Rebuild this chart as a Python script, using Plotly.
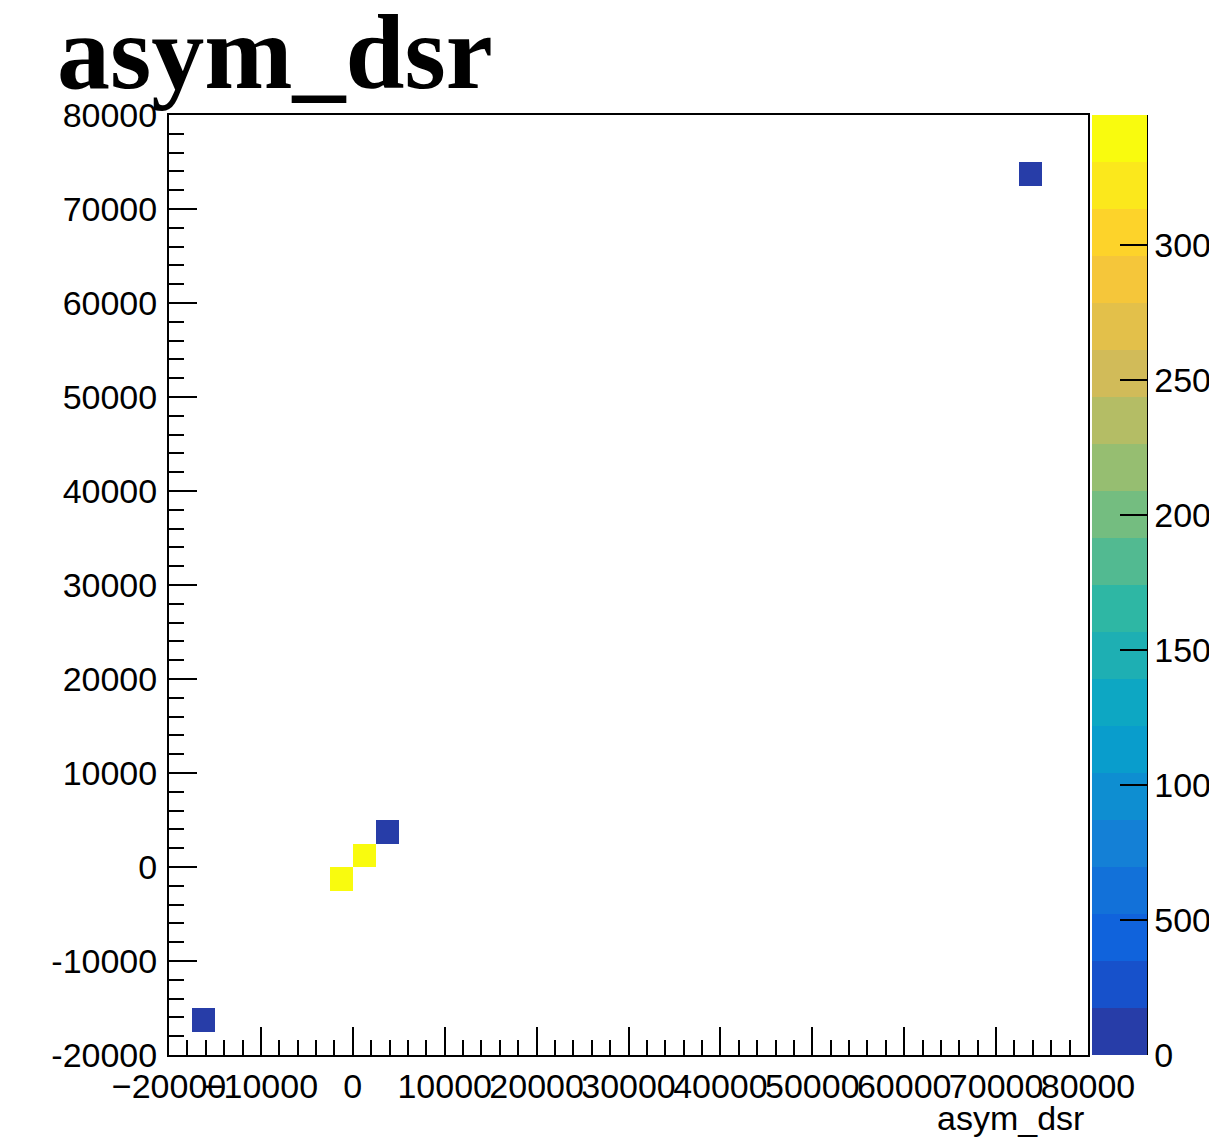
import numpy as np
import plotly.graph_objects as go

# ---- data (filled bins of the 2D histogram) ----
cell_x = [-16250, -1250, 1250, 3750, 73750]      # bin centres, asym_dsr (x)
cell_y = [-16250, -1250, 1250, 3750, 73750]      # bin centres, asym_dsr (y)
cell_count = [1, 3480, 3420, 2, 1]               # entries per bin

x_ticks = [-20000, -10000, 0, 10000, 20000, 30000, 40000, 50000, 60000, 70000, 80000]
y_ticks = [-20000, -10000, 0, 10000, 20000, 30000, 40000, 50000, 60000, 70000, 80000]
z_ticks = [0, 500, 1000, 1500, 2000, 2500, 3000]

# ---- binning (ROOT default 40 x 40) ----
lo, hi, nb = -20000, 80000, 40
w = (hi - lo) / nb
centers = lo + w * (np.arange(nb) + 0.5)
z = [[None] * nb for _ in range(nb)]
for cx, cy, c in zip(cell_x, cell_y, cell_count):
    ix = int((cx - lo) // w)
    iy = int((cy - lo) // w)
    z[iy][ix] = c

# ---- ROOT kBird palette, 20 contour bands ----
stops = [0.0, 0.125, 0.25, 0.375, 0.5, 0.625, 0.75, 0.875, 1.0]
red = [0.2082, 0.0592, 0.0780, 0.0232, 0.1802, 0.5301, 0.8186, 0.9956, 0.9764]
green = [0.1664, 0.3599, 0.5041, 0.6419, 0.7178, 0.7492, 0.7328, 0.7862, 0.9832]
blue = [0.5293, 0.8684, 0.8385, 0.7914, 0.6425, 0.4662, 0.3499, 0.1968, 0.0539]
ncont, ncol = 20, 255
zmax = max(cell_count)
colorscale = []
for i in range(ncont):
    k = min(int((i + 0.99) * ncol / ncont), ncol - 1)
    f = k / (ncol - 1)
    r = np.interp(f, stops, red)
    g = np.interp(f, stops, green)
    b = np.interp(f, stops, blue)
    col = f"rgb({int(round(r*255))},{int(round(g*255))},{int(round(b*255))})"
    colorscale.append([i / ncont, col])
    colorscale.append([(i + 1) / ncont, col])

# page body has an 8px margin -> shift everything by 8px
OFF = 8
W, H = 1217 - OFF, 1144 - OFF
L, T = 169 - OFF, 115 - OFF
R = W - (1088 - OFF)
B = H - (1055 - OFF)
pw = W - L - R
ph = H - T - B

fig = go.Figure(go.Heatmap(
    x=centers, y=centers, z=z,
    zmin=0, zmax=zmax,
    colorscale=colorscale,
    hoverongaps=False,
    colorbar=dict(
        x=(1092 - 169) / pw, xanchor="left", xpad=0,
        y=0.5, yanchor="middle", len=1, lenmode="fraction", ypad=0,
        thickness=55, thicknessmode="pixels",
        outlinewidth=0,
        tickmode="array", tickvals=z_ticks, ticktext=[str(t) for t in z_ticks],
        ticks="inside", ticklen=27, tickwidth=2, tickcolor="black",
        tickfont=dict(family="Liberation Sans, Arial", size=34, color="black"),
    ),
))

axis_common = dict(
    range=[lo, hi], showgrid=False, zeroline=False,
    showline=True, linecolor="black", linewidth=2, mirror=True,
    ticks="inside", ticklen=28, tickwidth=2, tickcolor="black",
    minor=dict(dtick=2000, ticks="inside", ticklen=15, tickwidth=2, tickcolor="black"),
    tickfont=dict(family="Liberation Sans, Arial", size=34, color="black"),
    tickangle=0,
)
fig.update_xaxes(**axis_common, tickmode="array", tickvals=x_ticks,
                 ticktext=[("\u2212" + str(-t)) if t < 0 else str(t) for t in x_ticks])
fig.update_yaxes(**axis_common, tickmode="array", tickvals=y_ticks,
                 ticktext=[("-" + str(-t)) if t < 0 else str(t) for t in y_ticks],
                 ticklabelstandoff=3)

# colorbar right-edge axis line
fig.add_shape(type="line", xref="paper", yref="paper",
              x0=(1147 - 169) / pw, x1=(1147 - 169) / pw, y0=0, y1=1,
              line=dict(color="black", width=2))

fig.add_annotation(text="asym_dsr", xref="paper", yref="paper",
                   x=(55 - 169) / pw, y=1 + 62 / ph, xanchor="left", yanchor="middle",
                   showarrow=False,
                   font=dict(family="Liberation Serif, Times New Roman", size=106, color="black",
                             weight="bold"))
fig.add_annotation(text="asym_dsr", xref="paper", yref="paper",
                   x=(1086 - 169) / pw, y=-(1118 - 1055) / ph, xanchor="right", yanchor="middle",
                   showarrow=False,
                   font=dict(family="Liberation Sans, Arial", size=34, color="black"))

fig.update_layout(
    width=W, height=H,
    margin=dict(l=L, r=R, t=T, b=B, autoexpand=False),
    paper_bgcolor="white", plot_bgcolor="white",
    showlegend=False,
)
fig.write_html("out.html")
